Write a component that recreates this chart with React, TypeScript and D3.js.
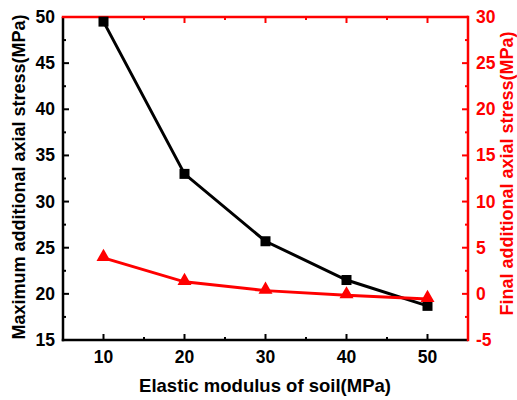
import React from "react";
import * as d3 from "d3";

const modulus = [10, 20, 30, 40, 50];
const maxStress = [49.5, 33.0, 25.7, 21.5, 18.7];
const finalStress = [3.9, 1.3, 0.35, -0.15, -0.55];
const xTicks = [10, 20, 30, 40, 50];
const leftTicks = [15, 20, 25, 30, 35, 40, 45, 50];
const rightTicks = [-5, 0, 5, 10, 15, 20, 25, 30];

const W = 517, H = 400;
const M = { left: 63, right: 468, top: 17, bottom: 340 };
const FONT = "'Liberation Sans', Arial, sans-serif";

export default function App() {
  const x = d3.scaleLinear().domain([5, 55]).range([M.left, M.right]);
  const yL = d3.scaleLinear().domain([15, 50]).range([M.bottom, M.top]);
  const yR = d3.scaleLinear().domain([-5, 30]).range([M.bottom, M.top]);
  const lineL = d3.line<number>().x((_, i) => x(modulus[i])).y((d) => yL(d));
  const lineR = d3.line<number>().x((_, i) => x(modulus[i])).y((d) => yR(d));
  const xMinor = d3.range(15, 55, 10);
  const lMinor = d3.range(17.5, 50, 5);
  const rMinor = d3.range(-2.5, 30, 5);
  const red = "#ff0000";
  const tri = d3.symbol().type(d3.symbolTriangle).size(85)();
  const sq = 10;
  return (
    <svg width={W} height={H} style={{ position: "absolute", left: 0, top: 0 }}>
      <rect width={W} height={H} fill="#fff" />
      {xTicks.map((t) => (
        <line key={"bx" + t} x1={x(t)} x2={x(t)} y1={M.bottom} y2={M.bottom - 6} stroke="#000" strokeWidth={2} />
      ))}
      {xMinor.map((t) => (
        <line key={"bm" + t} x1={x(t)} x2={x(t)} y1={M.bottom} y2={M.bottom - 3} stroke="#000" strokeWidth={2} />
      ))}
      {xTicks.map((t) => (
        <line key={"tx" + t} x1={x(t)} x2={x(t)} y1={M.top} y2={M.top + 6} stroke={red} strokeWidth={2} />
      ))}
      {xMinor.map((t) => (
        <line key={"tm" + t} x1={x(t)} x2={x(t)} y1={M.top} y2={M.top + 3} stroke={red} strokeWidth={2} />
      ))}
      {leftTicks.map((t) => (
        <line key={"l" + t} x1={M.left} x2={M.left + 6} y1={yL(t)} y2={yL(t)} stroke="#000" strokeWidth={2} />
      ))}
      {lMinor.map((t) => (
        <line key={"lm" + t} x1={M.left} x2={M.left + 3} y1={yL(t)} y2={yL(t)} stroke="#000" strokeWidth={2} />
      ))}
      {rightTicks.map((t) => (
        <line key={"r" + t} x1={M.right} x2={M.right - 6} y1={yR(t)} y2={yR(t)} stroke={red} strokeWidth={2} />
      ))}
      {rMinor.map((t) => (
        <line key={"rm" + t} x1={M.right} x2={M.right - 3} y1={yR(t)} y2={yR(t)} stroke={red} strokeWidth={2} />
      ))}
      <line x1={M.left} x2={M.left} y1={M.top} y2={M.bottom + 1.25} stroke="#000" strokeWidth={2.5} />
      <line x1={M.left - 1.25} x2={M.right} y1={M.bottom} y2={M.bottom} stroke="#000" strokeWidth={2.5} />
      <line x1={M.right} x2={M.right} y1={M.top - 1.25} y2={M.bottom + 1.25} stroke={red} strokeWidth={2.5} />
      <line x1={M.left - 1.25} x2={M.right} y1={M.top} y2={M.top} stroke={red} strokeWidth={2.5} />
      <path d={lineL(maxStress) || ""} fill="none" stroke="#000" strokeWidth={3} />
      <path d={lineR(finalStress) || ""} fill="none" stroke={red} strokeWidth={3} />
      {maxStress.map((v, i) => (
        <rect key={"s" + i} x={x(modulus[i]) - sq / 2} y={yL(v) - sq / 2} width={sq} height={sq} fill="#000" />
      ))}
      {finalStress.map((v, i) => (
        <path key={"t" + i} d={tri || ""} transform={`translate(${x(modulus[i])},${yR(v) - 1})`} fill={red} />
      ))}
      {xTicks.map((t) => (
        <text key={"xl" + t} x={x(t)} y={M.bottom + 23} textAnchor="middle" fontFamily={FONT} fontWeight="bold" fontSize={17.5}>
          {t}
        </text>
      ))}
      {leftTicks.map((t) => (
        <text key={"ll" + t} x={M.left - 8} y={yL(t) + 6} textAnchor="end" fontFamily={FONT} fontWeight="bold" fontSize={17.5}>
          {t}
        </text>
      ))}
      {rightTicks.map((t) => (
        <text key={"rl" + t} x={M.right + 8} y={yR(t) + 6} textAnchor="start" fontFamily={FONT} fontWeight="bold" fontSize={17.5} fill={red}>
          {t}
        </text>
      ))}
      <text x={265} y={392} textAnchor="middle" fontFamily={FONT} fontWeight="bold" fontSize={18.5}>
        Elastic modulus of soil(MPa)
      </text>
      <text transform={`translate(25,177) rotate(-90)`} textAnchor="middle" fontFamily={FONT} fontWeight="bold" fontSize={18}>
        Maximum additional axial stress(MPa)
      </text>
      <text transform={`translate(513,173.5) rotate(-90)`} textAnchor="middle" fontFamily={FONT} fontWeight="bold" fontSize={18} fill={red}>
        Final additional axial stress(MPa)
      </text>
    </svg>
  );
}
